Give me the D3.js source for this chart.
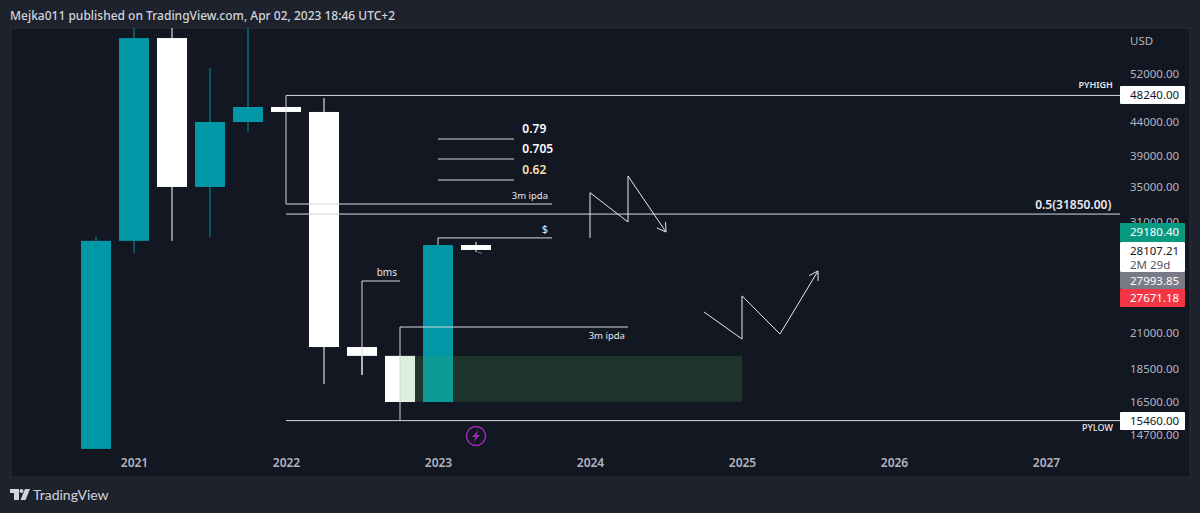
<!DOCTYPE html>
<html>
<head>
<meta charset="utf-8">
<script src="https://d3js.org/d3.v7.min.js"></script>
<style>
  html, body { margin: 0; padding: 0; background: #1e222d; }
  text { font-family: "Noto Sans", sans-serif; }
</style>
</head>
<body>
<script>
// candles, quarterly
var periods = [2020.75, 2021, 2021.25, 2021.5, 2021.75, 2022, 2022.25, 2022.5, 2022.75, 2023, 2023.25];
var opens   = [14000, 29000, 58970, 35020, 43960, 46330, 45530, 20000, 19390, 16500, 28580];
var closes  = [29000, 58970, 35020, 43960, 46330, 45530, 20000, 19390, 16500, 28580, 28090];
var highs   = [29400, 61500, 61500, 53100, 69000, 46330, 47800, 20000, 19390, 28580, 28890];
var lows    = [14000, 27800, 29000, 29400, 42450, 45530, 17580, 18140, 16500, 16500, 27890];
var yearTicks = [2021, 2022, 2023, 2024, 2025, 2026, 2027];
var priceTicks = [52000, 44000, 39000, 35000, 31000, 21000, 18500, 16500, 14700];

// horizontal / stepped drawing tools, [year, price]
var levelLines = [
  [[2022, 32990], [2022, 48240], [2027.5, 48240]],
  [[2022, 32990], [2023.75, 32990]],
  [[2022, 31850], [2027.5, 31850]],
  [[2023, 41420], [2023.5, 41420]],
  [[2023, 38620], [2023.5, 38620]],
  [[2023, 35880], [2023.5, 35880]],
  [[2023, 28580], [2023, 29300], [2023.75, 29300]],
  [[2022.5, 18140], [2022.5, 25200], [2022.75, 25200]],
  [[2022.75, 15460], [2022.75, 21450], [2024.25, 21450]],
  [[2022, 15460], [2027.5, 15460]]
];
var cursorMark = [[2023.26, 27900], [2023.29, 27740]];
var pathDown = [[2024, 29300], [2024, 34330], [2024.25, 30980], [2024.25, 36390], [2024.5, 29910]];
var pathUp = [[2024.75, 22610], [2025, 20570], [2025, 23920], [2025.25, 20930], [2025.5, 26100]];
var zone = { from: 2022.75, to: 2025, top: 19390, bottom: 16520 };

var noteTexts = ["0.79", "0.705", "0.62", "3m ipda", "$", "bms", "3m ipda", "0.5(31850.00)", "PYHIGH", "PYLOW"];
var noteYears = [2023.555, 2023.555, 2023.555, 2023.724, 2023.724, 2022.73, 2024.23, 2027.43, 2027.44, 2027.44];
var notePrices = [42300, 39500, 36600, 33600, 29800, 25650, 20600, 32450, 49450, 14900];
var noteAnchors = ["start", "start", "start", "end", "end", "end", "end", "end", "end", "end"];
var noteColors = ["#ffffff", "#ffffff", "#ffe0b2", "#e8e9ec", "#e8e9ec", "#e8e9ec", "#e8e9ec", "#e8e9ec", "#e8e9ec", "#e8e9ec"];
var noteSizes = [12, 12, 12, 9.5, 11, 10, 9.5, 12, 9, 9];
var noteWeights = [600, 600, 600, 400, 400, 400, 400, 600, 600, 500];

var stackPrices = ["29180.40", "28107.21", "27993.85", "27671.18"];
var stackFills = ["#089981", "#ffffff", "#787b86", "#f23645"];

var width = 1200, height = 513;
var pane = { left: 11, top: 28, right: 1190, bottom: 477 };

var svg = d3.select("body").append("svg")
  .attr("width", width).attr("height", height)
  .style("display", "block");

svg.append("rect").attr("width", width).attr("height", height).attr("fill", "#1e222d");
svg.append("rect")
  .attr("x", pane.left).attr("y", pane.top)
  .attr("width", pane.right - pane.left).attr("height", pane.bottom - pane.top)
  .attr("fill", "#131722").attr("stroke", "#2a2e39");

svg.append("text").attr("x", 10).attr("y", 20)
  .attr("fill", "#d1d4dc").attr("font-size", 12).attr("font-weight", 500)
  .text("Mejka011 published on TradingView.com, Apr 02, 2023 18:46 UTC+2");

var x = d3.scaleLinear().domain([2021, 2022]).range([134, 286]);
var y = d3.scaleLog().domain([52000, 14700]).range([74, 435]);

svg.append("clipPath").attr("id", "plot").append("rect")
  .attr("x", pane.left).attr("y", pane.top)
  .attr("width", 1120 - pane.left).attr("height", pane.bottom - pane.top);

// axes first, so the zone and the price labels can sit on top of them
var yAxis = svg.append("g").attr("transform", "translate(1124,0)")
  .call(d3.axisRight(y).tickValues(priceTicks).tickSize(0).tickPadding(6)
    .tickFormat(function (d) { return d3.format(".2f")(d); }));
yAxis.select(".domain").remove();
yAxis.selectAll("text").attr("fill", "#b2b5be").attr("font-size", 11.5)
  .style("font-family", '"Noto Sans", sans-serif');

var xAxis = svg.append("g").attr("transform", "translate(0,456)")
  .call(d3.axisBottom(x).tickValues(yearTicks).tickSize(0).tickPadding(2).tickFormat(d3.format("d")));
xAxis.select(".domain").remove();
xAxis.selectAll("text").attr("fill", "#b2b5be").attr("font-size", 12).attr("font-weight", 600)
  .style("font-family", '"Noto Sans", sans-serif');

var plot = svg.append("g").attr("clip-path", "url(#plot)");
var candleW = (x(2021.25) - x(2021)) * 0.79;

periods.forEach(function (p, i) {
  var up = closes[i] > opens[i];
  var col = up ? "#0097a7" : "#ffffff";
  plot.append("line")
    .attr("x1", x(p)).attr("x2", x(p))
    .attr("y1", y(highs[i])).attr("y2", y(lows[i]))
    .attr("stroke", col).attr("stroke-width", 1);
  plot.append("rect")
    .attr("x", x(p) - candleW / 2)
    .attr("width", candleW)
    .attr("y", y(Math.max(opens[i], closes[i])))
    .attr("height", Math.max(1, Math.abs(y(opens[i]) - y(closes[i]))))
    .attr("fill", col);
});

// demand zone
plot.append("rect")
  .attr("x", x(zone.from)).attr("width", x(zone.to) - x(zone.from))
  .attr("y", y(zone.top)).attr("height", y(zone.bottom) - y(zone.top))
  .attr("fill", "#4caf50").attr("fill-opacity", 0.2);

var line = d3.line().x(function (d) { return x(d[0]); }).y(function (d) { return y(d[1]); });

levelLines.forEach(function (pts) {
  plot.append("path").attr("d", line(pts))
    .attr("fill", "none").attr("stroke", "#d6d8de").attr("stroke-width", 1);
});
plot.append("path").attr("d", line(cursorMark))
  .attr("fill", "none").attr("stroke", "#787b86").attr("stroke-width", 1);

function arrowPath(pts) {
  plot.append("path").attr("d", line(pts))
    .attr("fill", "none").attr("stroke", "#e8e9ec").attr("stroke-width", 1);
  // arrow head at the last point
  var a = pts[pts.length - 2], b = pts[pts.length - 1];
  var bx = x(b[0]), by = y(b[1]);
  var ang = Math.atan2(by - y(a[1]), bx - x(a[0]));
  [-0.55, 0.55].forEach(function (da) {
    plot.append("line")
      .attr("x1", bx).attr("y1", by)
      .attr("x2", bx - 10 * Math.cos(ang + da))
      .attr("y2", by - 10 * Math.sin(ang + da))
      .attr("stroke", "#e8e9ec").attr("stroke-width", 1);
  });
}
arrowPath(pathDown);
arrowPath(pathUp);

noteTexts.forEach(function (t, i) {
  svg.append("text")
    .attr("x", x(noteYears[i])).attr("y", y(notePrices[i]))
    .attr("text-anchor", noteAnchors[i])
    .attr("fill", noteColors[i])
    .attr("font-size", noteSizes[i])
    .attr("font-weight", noteWeights[i])
    .text(t);
});

// price labels
function priceBox(top, h, fill, label, col) {
  svg.append("rect").attr("x", 1120).attr("y", top).attr("width", 65).attr("height", h)
    .attr("rx", 1).attr("fill", fill);
  svg.append("text").attr("x", 1130).attr("y", top + 13).attr("fill", col)
    .attr("font-size", 11.5).text(label);
}
priceBox(86, 18, "#ffffff", "48240.00", "#131722");
priceBox(412, 18, "#ffffff", "15460.00", "#131722");
priceBox(223, 19, stackFills[0], stackPrices[0], "#ffffff");
priceBox(242, 30, stackFills[1], stackPrices[1], "#131722");
svg.append("text").attr("x", 1130).attr("y", 269).attr("fill", "#50535e").attr("font-size", 11.5).text("2M 29d");
priceBox(272, 17, stackFills[2], stackPrices[2], "#ffffff");
priceBox(289, 18, stackFills[3], stackPrices[3], "#ffffff");

svg.append("text").attr("x", 1130).attr("y", 45).attr("fill", "#b2b5be").attr("font-size", 11.5).text("USD");

// lightning badge under the last candle
var badge = svg.append("g").attr("transform", "translate(" + x(2023.25) + ",436)");
badge.append("circle").attr("r", 9.5).attr("fill", "none").attr("stroke", "#9c27b0").attr("stroke-width", 1.5);
badge.append("path").attr("d", "M2.5,-6 L-4,1 L-0.5,1 L-2.5,6 L4,-1 L0.5,-1 Z").attr("fill", "#9c27b0");

// footer logo
var logo = svg.append("g").attr("transform", "translate(10,489)").attr("fill", "#d1d4dc");
logo.append("path").attr("d", "M0,0 H9 V11 H4 V4 H0 Z");
logo.append("circle").attr("cx", 11.5).attr("cy", 2).attr("r", 2);
logo.append("path").attr("d", "M15,0 H20 L15.5,11 H10.5 Z");
svg.append("text").attr("x", 33).attr("y", 500).attr("fill", "#d1d4dc").attr("font-size", 14)
  .style("font-family", "Lato, sans-serif").text("TradingView");
</script>
</body>
</html>
